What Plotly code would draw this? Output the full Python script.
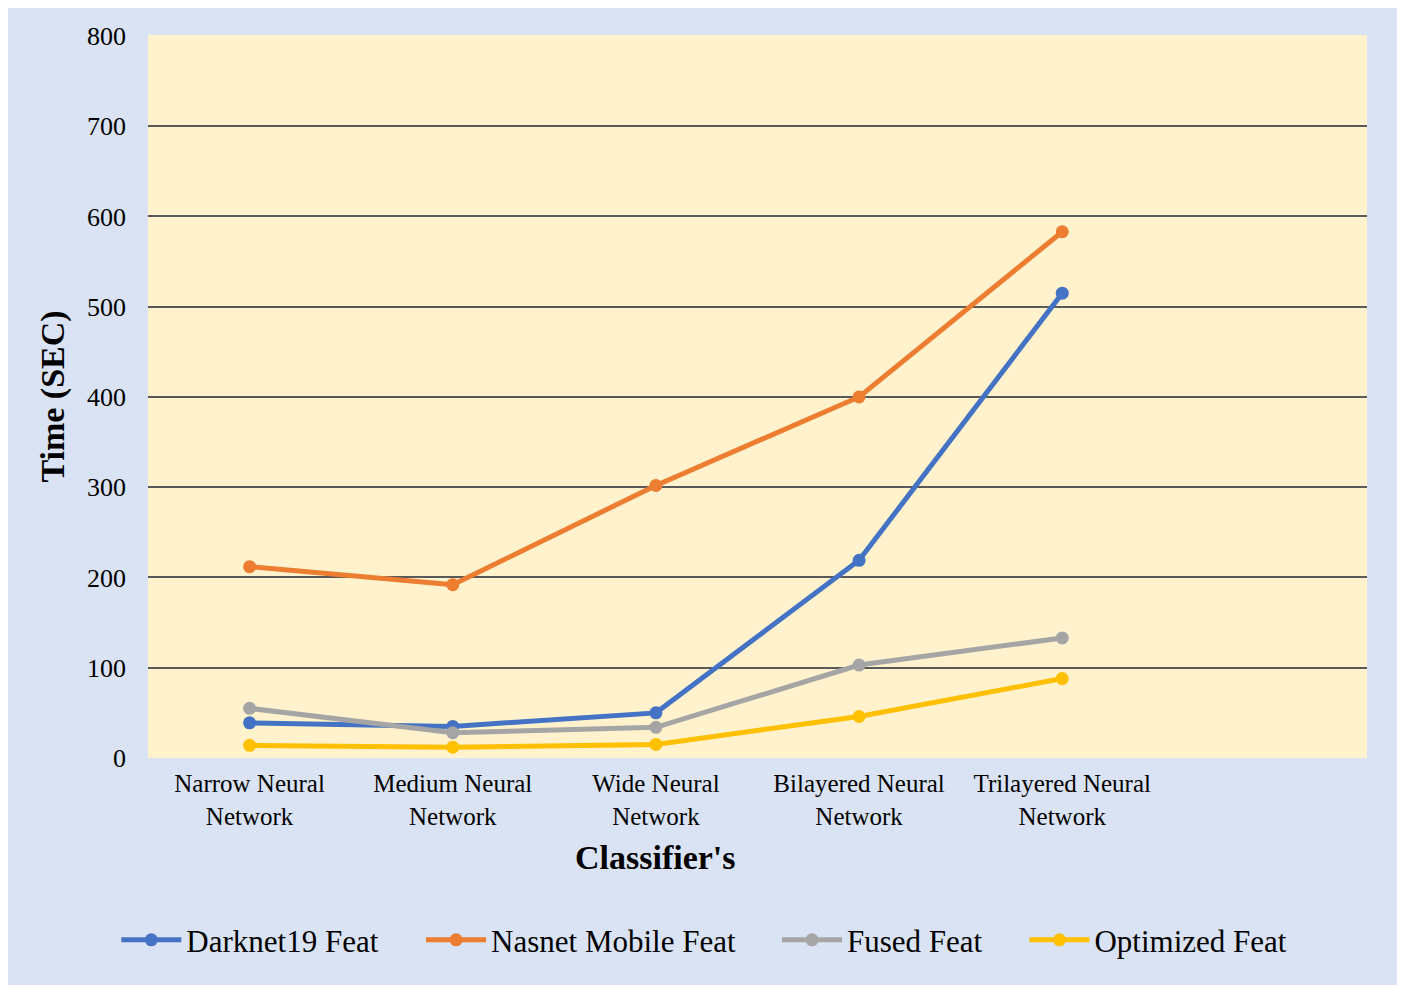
import plotly.graph_objects as go

categories = ["Narrow Neural<br>Network", "Medium Neural<br>Network", "Wide Neural<br>Network",
              "Bilayered Neural<br>Network", "Trilayered Neural<br>Network", " "]
darknet = [39, 35, 50, 219, 515]
nasnet = [212, 192, 302, 400, 583]
fused = [55, 28, 34, 103, 133]
optimized = [14, 12, 15, 46, 88]
y_ticks = [0, 100, 200, 300, 400, 500, 600, 700, 800]

series = [
    ("Darknet19 Feat", darknet, "#4472C4"),
    ("Nasnet Mobile Feat", nasnet, "#ED7D31"),
    ("Fused Feat", fused, "#A5A5A5"),
    ("Optimized Feat", optimized, "#FFC000"),
]

FONT = "Liberation Serif, Times New Roman, serif"
# left edge (in paper fraction) of each legend entry
legend_x = [-0.026, 0.224, 0.516, 0.719]
legend_ids = ["legend", "legend2", "legend3", "legend4"]

fig = go.Figure()
for (name, vals, color), lid in zip(series, legend_ids):
    fig.add_trace(go.Scatter(
        x=categories[:len(vals)], y=vals, name=name, mode="lines+markers",
        legend=lid,
        line=dict(color=color, width=5), marker=dict(color=color, size=13),
    ))

legend_common = dict(orientation="h", xanchor="left", y=-0.252, yanchor="middle",
                     font=dict(size=31, family=FONT), bgcolor="rgba(0,0,0,0)", itemwidth=60)

fig.update_layout(
    width=1392, height=977,
    margin=dict(l=140, r=33, t=27, b=227),
    paper_bgcolor="#DAE3F3", plot_bgcolor="#FFF2CC",
    font=dict(family=FONT, color="black", size=25),
    showlegend=True,
    legend=dict(x=legend_x[0], **legend_common),
    legend2=dict(x=legend_x[1], **legend_common),
    legend3=dict(x=legend_x[2], **legend_common),
    legend4=dict(x=legend_x[3], **legend_common),
    xaxis=dict(
        type="category", categoryorder="array", categoryarray=categories,
        range=[-0.5, 5.5], showgrid=False, zeroline=False, showline=False,
        tickfont=dict(size=25, family=FONT), ticks="", ticklabelstandoff=8,
    ),
    yaxis=dict(
        range=[0, 801], tickvals=y_ticks, showgrid=True, gridcolor="#595959", gridwidth=1.8,
        zeroline=False, showline=False, ticks="", ticklabelstandoff=21,
        tickfont=dict(size=26, family=FONT),
        title=dict(text="<b>Time (SEC)</b>", font=dict(size=34, family=FONT), standoff=12),
    ),
    annotations=[dict(
        text="<b>Classifier's</b>", xref="paper", yref="paper", x=0.416, y=-0.137,
        xanchor="center", yanchor="middle", showarrow=False,
        font=dict(size=34, family=FONT, color="black"),
    )],
)

fig.write_html("out.html")
